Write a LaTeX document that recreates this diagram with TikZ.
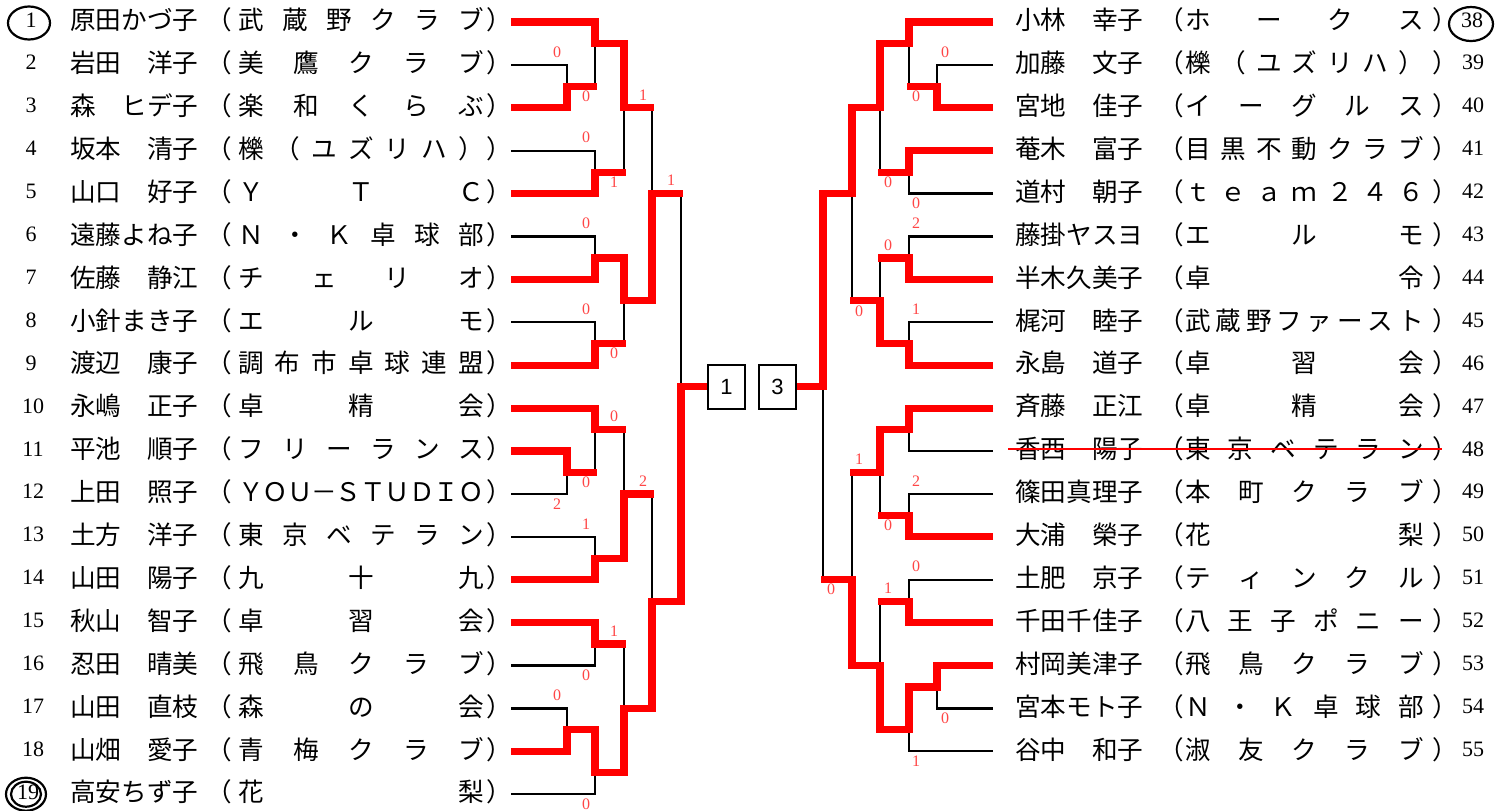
\documentclass[tikz,border=0pt]{standalone}
\usepackage{fontspec}
\setmainfont{Liberation Serif}
\newfontfamily\jpfont{Noto Sans CJK JP}
\newfontfamily\sansfont{Liberation Sans}
\definecolor{scorered}{RGB}{255,70,70}
\tikzset{
  blk/.style={line width=2.3pt, black, line join=miter, line cap=butt},
  win/.style={line width=7.2pt, red, line join=miter, line cap=butt},
  jtL/.style={font=\jpfont\fontsize{25.6}{25.6}\selectfont, inner sep=0pt, anchor=base, yshift=-7.7pt},
  jtR/.style={font=\jpfont\fontsize{25.6}{25.6}\selectfont, inner sep=0pt, anchor=base, yshift=-7.7pt},
  numtxt/.style={font=\fontsize{22}{22}\selectfont, inner sep=0pt, anchor=base, yshift=-5pt},
  sc/.style={text=scorered, font=\fontsize{16}{16}\selectfont, inner sep=0pt},
  boxnode/.style={draw, line width=2.3pt, minimum width=37pt, minimum height=44pt, inner sep=0pt, font=\sansfont\fontsize{22}{22}\selectfont},
  ring/.style={line width=2.2pt},
  strike/.style={red, line width=1.4pt},
}
\newcommand\Lrow[6]{%
  \node[numtxt] (ln#1) at (#6,#1) {#2};
  \node[jtL, anchor=base west] (lnm#1) at (70,#1) {#3};
  \node[jtL] (lop#1) at (219.5,#1) {（};
  \node[jtL] (lcp#1) at (499.5,#1) {）};
  \foreach \c [count=\k from 0] in {#5}{\node[jtL] (lc#1-\k) at ({251+\k*220/(#4-1)},#1) {\c};}
}
\newcommand\Rrow[6]{%
  \node[numtxt] (rn#1) at (#6,#1) {#2};
  \node[jtR, anchor=base west] (rnm#1) at (1015,#1) {#3};
  \node[jtR] (rop#1) at (1171,#1) {（};
  \node[jtR] (rcp#1) at (1445.5,#1) {）};
  \foreach \c [count=\k from 0] in {#5}{\node[jtR] (rc#1-\k) at ({1198+\k*213/(#4-1)},#1) {\c};}
}
\begin{document}
\begin{tikzpicture}[x=1pt,y=-42.9pt]
\useasboundingbox[fill=white] (0,0.48718) rectangle (1510,19.3916);

% ---------- left entries ----------
\Lrow{1}{1}{原田かづ子}{6}{武,蔵,野,ク,ラ,ブ}{31}
\Lrow{2}{2}{岩田　洋子}{5}{美,鷹,ク,ラ,ブ}{31}
\Lrow{3}{3}{森　ヒデ子}{5}{楽,和,く,ら,ぶ}{31}
\Lrow{4}{4}{坂本　清子}{7}{櫟,（,ユ,ズ,リ,ハ,）}{31}
\Lrow{5}{5}{山口　好子}{3}{Ｙ,Ｔ,Ｃ}{31}
\Lrow{6}{6}{遠藤よね子}{6}{Ｎ,・,Ｋ,卓,球,部}{31}
\Lrow{7}{7}{佐藤　静江}{4}{チ,ェ,リ,オ}{31}
\Lrow{8}{8}{小針まき子}{3}{エ,ル,モ}{31}
\Lrow{9}{9}{渡辺　康子}{7}{調,布,市,卓,球,連,盟}{31}
\Lrow{10}{10}{永嶋　正子}{3}{卓,精,会}{33}
\Lrow{11}{11}{平池　順子}{6}{フ,リ,ー,ラ,ン,ス}{33}
\Lrow{12}{12}{上田　照子}{10}{Ｙ,Ｏ,Ｕ,－,Ｓ,Ｔ,Ｕ,Ｄ,Ｉ,Ｏ}{33}
\Lrow{13}{13}{土方　洋子}{6}{東,京,ベ,テ,ラ,ン}{33}
\Lrow{14}{14}{山田　陽子}{3}{九,十,九}{33}
\Lrow{15}{15}{秋山　智子}{3}{卓,習,会}{33}
\Lrow{16}{16}{忍田　晴美}{5}{飛,鳥,ク,ラ,ブ}{33}
\Lrow{17}{17}{山田　直枝}{3}{森,の,会}{33}
\Lrow{18}{18}{山畑　愛子}{5}{青,梅,ク,ラ,ブ}{33}
\Lrow{19}{19}{高安ちず子}{2}{花,梨}{28}

% ---------- right entries ----------
\Rrow{1}{38}{小林　幸子}{4}{ホ,ー,ク,ス}{1472}
\Rrow{2}{39}{加藤　文子}{7}{櫟,（,ユ,ズ,リ,ハ,）}{1473}
\Rrow{3}{40}{宮地　佳子}{5}{イ,ー,グ,ル,ス}{1473}
\Rrow{4}{41}{菴木　富子}{7}{目,黒,不,動,ク,ラ,ブ}{1473}
\Rrow{5}{42}{道村　朝子}{7}{ｔ,ｅ,ａ,ｍ,２,４,６}{1473}
\Rrow{6}{43}{藤掛ヤスヨ}{3}{エ,ル,モ}{1473}
\Rrow{7}{44}{半木久美子}{2}{卓,令}{1473}
\Rrow{8}{45}{梶河　睦子}{8}{武,蔵,野,フ,ァ,ー,ス,ト}{1473}
\Rrow{9}{46}{永島　道子}{3}{卓,習,会}{1473}
\Rrow{10}{47}{斉藤　正江}{3}{卓,精,会}{1473}
\Rrow{11}{48}{香西　陽子}{6}{東,京,ベ,テ,ラ,ン}{1473}
\Rrow{12}{49}{篠田真理子}{5}{本,町,ク,ラ,ブ}{1473}
\Rrow{13}{50}{大浦　榮子}{2}{花,梨}{1473}
\Rrow{14}{51}{土肥　京子}{5}{テ,ィ,ン,ク,ル}{1473}
\Rrow{15}{52}{千田千佳子}{6}{八,王,子,ポ,ニ,ー}{1473}
\Rrow{16}{53}{村岡美津子}{5}{飛,鳥,ク,ラ,ブ}{1473}
\Rrow{17}{54}{宮本モト子}{6}{Ｎ,・,Ｋ,卓,球,部}{1473}
\Rrow{18}{55}{谷中　和子}{5}{淑,友,ク,ラ,ブ}{1473}

% seed rings
\draw[ring] (29,1.0233) ellipse [x radius=21pt, y radius=16.5pt];
\draw[ring] (26,19) ellipse [x radius=20pt, y radius=16.5pt];
\draw[ring] (26,19) ellipse [x radius=15pt, y radius=12.5pt];
\draw[ring] (1471,1.047) ellipse [x radius=22pt, y radius=17pt];

% withdrawn entry
\coordinate (stA) at (1008,10.953);
\coordinate (stB) at (1442,10.953);
\draw[strike] (stA) -- (stB);

% ---------- black brackets ----------
\foreach \xt/\yt/\x/\yb/\xb in {
  511/2/567/3/511, 511/1/595/2.5/567, 511/4/595/5/511, 595/1.5/624/4.5/595,
  511/6/595/7/511, 511/8/595/9/511, 595/6.5/624/8.5/595, 624/3/652/7.5/624,
  511/11/567/12/511, 511/10/595/11.5/567, 511/13/595/14/511, 595/10.5/624/13.5/595,
  511/15/595/16/511, 511/17/567/18/511, 567/17.5/595/19/511, 595/15.5/624/18.5/595,
  624/12/652/17/624, 652/5/681/14.5/652,
  993/2/937/3/993, 993/1/909/2.5/937, 993/4/909/5/993, 909/1.5/880/4.5/909,
  993/6/909/7/993, 993/8/909/9/993, 909/6.5/880/8.5/909, 880/3/852/7.5/880,
  993/10/909/11/993, 993/12/909/13/993, 909/10.5/880/12.5/909,
  993/14/909/15/993, 993/16/937/17/993, 937/16.5/909/18/993, 909/14.5/880/17.5/909,
  880/11.5/852/16/880, 852/5/823/14/852}
  \draw[blk] (\xt,\yt) -- (\x,\yt) -- (\x,\yb) -- (\xb,\yb);

% ---------- result boxes ----------
\node[boxnode] (box1) at (726.5,9.5) {1};
\node[boxnode] (box3) at (777.5,9.5) {3};

% ---------- winning paths (left) ----------
\draw[win] (511,1) -- (595,1) -- (595,1.5) -- (624,1.5) -- (624,3) -- (654,3);
\draw[win] (511,3) -- (567,3) -- (567,2.5) -- (597,2.5);
\draw[win] (511,5) -- (595,5) -- (595,4.5) -- (626,4.5);
\draw[win] (511,7) -- (595,7) -- (595,6.5) -- (624,6.5) -- (624,7.5) -- (652,7.5) -- (652,5) -- (683,5);
\draw[win] (511,9) -- (595,9) -- (595,8.5) -- (626,8.5);
\draw[win] (511,10) -- (595,10) -- (595,10.5) -- (626,10.5);
\draw[win] (511,11) -- (567,11) -- (567,11.5) -- (597,11.5);
\draw[win] (511,14) -- (595,14) -- (595,13.5) -- (624,13.5) -- (624,12) -- (654,12);
\draw[win] (511,15) -- (595,15) -- (595,15.5) -- (626,15.5);
\draw[win] (511,18) -- (567,18) -- (567,17.5) -- (595,17.5) -- (595,18.5) -- (624,18.5) -- (624,17) -- (652,17) -- (652,14.5) -- (681,14.5) -- (681,9.5) -- (box1.west);

% ---------- winning paths (right) ----------
\draw[win] (993,1) -- (909,1) -- (909,1.5) -- (880,1.5) -- (880,3) -- (852,3) -- (852,5) -- (823,5) -- (823,9.5) -- (box3.east);
\draw[win] (993,3) -- (937,3) -- (937,2.5) -- (907,2.5);
\draw[win] (993,4) -- (909,4) -- (909,4.5) -- (878,4.5);
\draw[win] (993,7) -- (909,7) -- (909,6.5) -- (878,6.5);
\draw[win] (993,9) -- (909,9) -- (909,8.5) -- (880,8.5) -- (880,7.5) -- (850,7.5);
\draw[win] (993,10) -- (909,10) -- (909,10.5) -- (880,10.5) -- (880,11.5) -- (850,11.5);
\draw[win] (993,13) -- (909,13) -- (909,12.5) -- (878,12.5);
\draw[win] (993,15) -- (909,15) -- (909,14.5) -- (878,14.5);
\draw[win] (993,16) -- (937,16) -- (937,16.5) -- (909,16.5) -- (909,17.5) -- (880,17.5) -- (880,16) -- (852,16) -- (852,14) -- (821,14);

% ---------- scores ----------
\foreach \x/\r/\d/\t [count=\n] in {
  557/2/13/0, 586/2.5/-10/0, 643/3/13/1, 586/4/13/0, 614/4.5/-10/1, 671/5/13/1,
  586/6/13/0, 586/8/13/0, 614/8.5/-10/0, 614/10.5/13/0, 586/11.5/-10/0, 643/12/13/2,
  557/12/-10/2, 586/13/13/1, 614/15.5/13/1, 586/16/-10/0, 557/17/13/0, 586/19/-10/0,
  945/2/13/0, 916/2.5/-10/0, 888/4.5/-10/0, 916/5/-10/0, 916/6/13/2, 888/6.5/13/0,
  859/7.5/-10/0, 916/8/13/1, 859/11.5/13/1, 916/12/13/2, 888/12.5/-10/0, 916/14/13/0,
  888/14.5/13/1, 831/14/-10/0, 945/17/-10/0, 916/18/-10/1}
  \node[sc, yshift=\d pt] (score\n) at (\x,\r) {\t};
\end{tikzpicture}
\end{document}
